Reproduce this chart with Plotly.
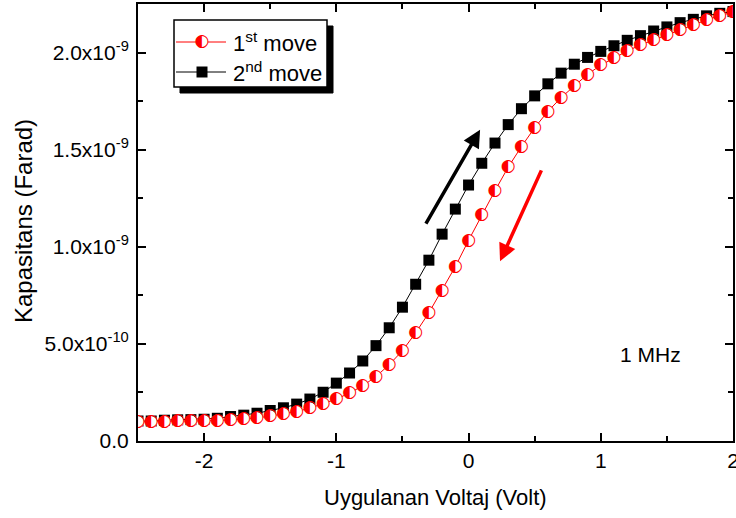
import plotly.graph_objects as go

voltage = [-2.5, -2.4, -2.3, -2.2, -2.1, -2.0, -1.9, -1.8, -1.7, -1.6,
           -1.5, -1.4, -1.3, -1.2, -1.1, -1.0, -0.9, -0.8, -0.7, -0.6,
           -0.5, -0.4, -0.3, -0.2, -0.1, 0.0, 0.1, 0.2, 0.3, 0.4,
           0.5, 0.6, 0.7, 0.8, 0.9, 1.0, 1.1, 1.2, 1.3, 1.4,
           1.5, 1.6, 1.7, 1.8, 1.9, 2.0]

# capacitance in units of 1e-10 F
move1 = [0.98, 0.98, 1.00, 1.02, 1.02, 1.03, 1.05, 1.09, 1.14, 1.19,
         1.28, 1.40, 1.52, 1.69, 1.91, 2.16, 2.47, 2.84, 3.32, 3.93,
         4.65, 5.57, 6.60, 7.76, 8.98, 10.33, 11.63, 12.89, 14.10, 15.16,
         16.13, 16.97, 17.68, 18.29, 18.88, 19.35, 19.73, 20.08, 20.39, 20.64,
         20.90, 21.16, 21.42, 21.68, 21.90, 22.08]
move2 = [1.03, 1.03, 1.07, 1.09, 1.10, 1.12, 1.17, 1.26, 1.33, 1.43,
         1.57, 1.71, 1.90, 2.16, 2.51, 2.98, 3.50, 4.12, 4.91, 5.83,
         6.89, 8.07, 9.31, 10.65, 11.94, 13.18, 14.30, 15.34, 16.29, 17.11,
         17.77, 18.39, 18.94, 19.40, 19.75, 20.06, 20.35, 20.63, 20.87, 21.11,
         21.32, 21.54, 21.71, 21.89, 22.02, 22.11]

series_names = ["1<sup>st</sup> move", "2<sup>nd</sup> move"]

y1 = [v * 1e-10 for v in move1]
y2 = [v * 1e-10 for v in move2]

ytick_vals = [0.0, 5.0e-10, 1.0e-9, 1.5e-9, 2.0e-9]
ytick_text = ["0.0", "5.0x10<sup>-10</sup>", "1.0x10<sup>-9</sup>",
              "1.5x10<sup>-9</sup>", "2.0x10<sup>-9</sup>"]
xtick_vals = [-2, -1, 0, 1, 2]
xtick_text = ["-2", "-1", "0", "1", "2"]

RED = "#FF0000"
FONT = "Liberation Sans, Arial, sans-serif"
HALF = "\u25D0"
GLYPH_SIZE = 17

fig = go.Figure()

fig.add_trace(go.Scatter(
    x=voltage, y=y2, mode="lines+markers", name="2nd move",
    line=dict(color="black", width=1),
    marker=dict(symbol="square", size=11, color="black"),
    showlegend=False,
))
fig.add_trace(go.Scatter(
    x=voltage, y=y1, mode="lines+markers+text", name="1st move",
    line=dict(color=RED, width=1),
    marker=dict(symbol="circle", size=12, color="white", line=dict(width=0)),
    text=[HALF] * len(voltage), textposition="middle center",
    textfont=dict(family="DejaVu Sans", size=GLYPH_SIZE, color=RED),
    showlegend=False,
))

# arrows
fig.add_annotation(x=0.087, y=1.603e-9, ax=-0.329, ay=1.111e-9,
                   xref="x", yref="y", axref="x", ayref="y",
                   showarrow=True, arrowhead=2, arrowsize=1.0, arrowwidth=3.5,
                   arrowcolor="black", text="")
fig.add_annotation(x=0.238, y=0.925e-9, ax=0.556, ay=1.401e-9,
                   xref="x", yref="y", axref="x", ayref="y",
                   showarrow=True, arrowhead=2, arrowsize=1.0, arrowwidth=3.5,
                   arrowcolor=RED, text="")

fig.add_annotation(x=1.373, y=4.45e-10, xref="x", yref="y", text="1 MHz",
                   xanchor="center", yanchor="middle",
                   showarrow=False, font=dict(family=FONT, size=21, color="black"))

# legend (manual, with shadow) -- positions in plot-area fractions
W, H = 595.0, 437.0
def px(xp):
    return (xp - 138) / W
def py(yp):
    return 1 - (yp - 4) / H

fig.add_shape(type="rect", xref="paper", yref="paper",
              x0=px(180), x1=px(333), y0=py(93), y1=py(26),
              fillcolor="black", line=dict(color="black", width=1), layer="below")
fig.add_shape(type="rect", xref="paper", yref="paper",
              x0=px(174), x1=px(327), y0=py(87), y1=py(20),
              fillcolor="white", line=dict(color="black", width=1.5), layer="below")

# legend samples drawn on an overlay axis pair spanning the plot area
fig.add_trace(go.Scatter(
    x=[px(176), px(226)], y=[py(42), py(42)], mode="lines",
    line=dict(color=RED, width=1), xaxis="x2", yaxis="y2",
    showlegend=False, hoverinfo="skip", cliponaxis=False,
))
fig.add_trace(go.Scatter(
    x=[px(202)], y=[py(42)], mode="markers+text",
    marker=dict(symbol="circle", size=12, color="white", line=dict(width=0)),
    text=[HALF], textposition="middle center",
    textfont=dict(family="DejaVu Sans", size=GLYPH_SIZE, color=RED),
    xaxis="x2", yaxis="y2", showlegend=False, hoverinfo="skip", cliponaxis=False,
))
fig.add_trace(go.Scatter(
    x=[px(176), px(226)], y=[py(72), py(72)], mode="lines",
    line=dict(color="black", width=1), xaxis="x2", yaxis="y2",
    showlegend=False, hoverinfo="skip", cliponaxis=False,
))
fig.add_trace(go.Scatter(
    x=[px(202)], y=[py(72)], mode="markers",
    marker=dict(symbol="square", size=11, color="black"),
    xaxis="x2", yaxis="y2", showlegend=False, hoverinfo="skip", cliponaxis=False,
))
for name, row in zip(series_names, [42, 72]):
    fig.add_annotation(x=px(231), y=py(row), xref="paper", yref="paper",
                       xanchor="left", yanchor="middle",
                       text=name, showarrow=False,
                       font=dict(family=FONT, size=22, color="black"))

# axis titles
fig.add_annotation(x=px(435), y=py(497), xref="paper", yref="paper",
                   xanchor="center", yanchor="middle",
                   text="Uygulanan Voltaj (Volt)", showarrow=False,
                   font=dict(family=FONT, size=22, color="black"))
fig.add_annotation(x=px(23), y=py(221), xref="paper", yref="paper",
                   xanchor="center", yanchor="middle",
                   text="Kapasitans (Farad)", showarrow=False, textangle=-90,
                   font=dict(family=FONT, size=24, color="black"))

axis_common = dict(
    showgrid=False, zeroline=False,
    showline=True, linewidth=2, linecolor="black", mirror="ticks",
    ticks="inside", ticklen=8, tickwidth=2, tickcolor="black",
    ticklabeloverflow="allow",
)
fig.update_layout(
    xaxis=dict(range=[-2.5, 2.0], tickvals=xtick_vals, ticktext=xtick_text,
               minor=dict(dtick=0.5, tick0=0, ticks="inside", ticklen=5,
                          tickwidth=1.5, tickcolor="black"),
               tickfont=dict(family=FONT, size=21, color="black"),
               ticklabelstandoff=0, **axis_common),
    yaxis=dict(range=[0, 2.25e-9], tickvals=ytick_vals, ticktext=ytick_text,
               minor=dict(dtick=2.5e-10, tick0=0, ticks="inside", ticklen=5,
                          tickwidth=1.5, tickcolor="black"),
               tickfont=dict(family=FONT, size=21, color="black"),
               ticklabelstandoff=3, **axis_common),
    xaxis2=dict(overlaying="x", range=[0, 1], visible=False),
    yaxis2=dict(overlaying="y", range=[0, 1], visible=False),
    width=736, height=518,
    margin=dict(l=138, r=3, t=4, b=77, autoexpand=False),
    plot_bgcolor="white", paper_bgcolor="white",
    showlegend=False,
)

fig.write_html("out.html", config={"displayModeBar": False},
               post_script="document.body.style.margin='0';document.body.style.padding='0';")
